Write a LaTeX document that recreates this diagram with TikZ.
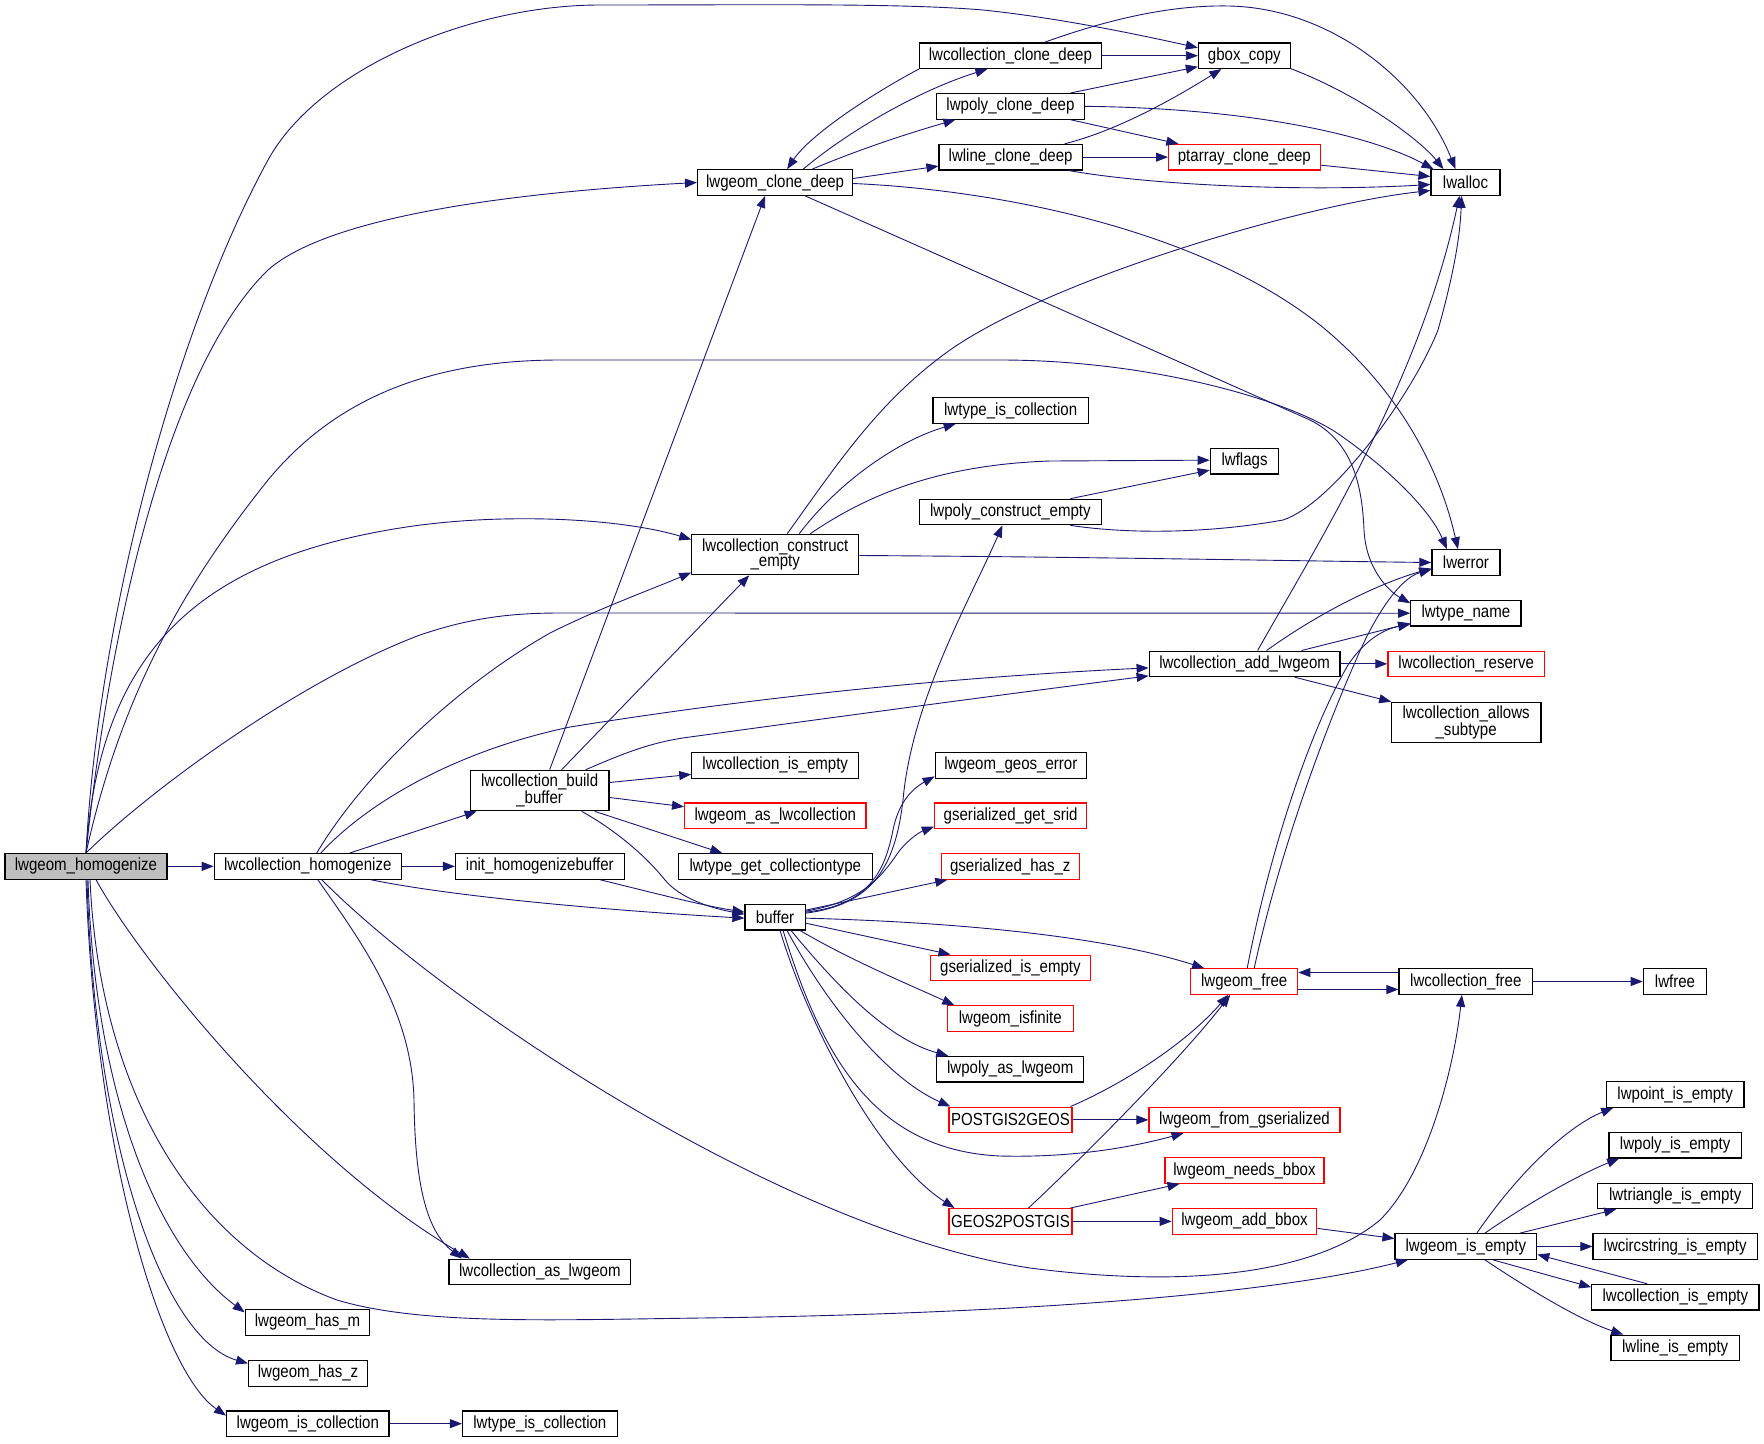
\documentclass[tikz,border=0pt]{standalone}
\usepackage{fontspec}
\setmainfont[FakeStretch=0.86]{Liberation Sans}
\usetikzlibrary{arrows.meta}
\definecolor{edgeblue}{HTML}{191970}
\definecolor{boxred}{HTML}{FF0000}
\definecolor{rootgray}{HTML}{BFBFBF}
\newcommand\gnodefont{\fontsize{17.5}{14.5}\selectfont}
\begin{document}
\begin{tikzpicture}[x=1pt,y=-1pt,
  box/.style={draw=black, line width=1.2pt, fill=white, inner sep=0pt, minimum height=25.5pt, text=black, font=\gnodefont},
  redbox/.style={box, draw=boxred},
  twoline/.style={minimum height=40.4pt, align=center},
  edge/.style={draw=edgeblue, line width=0.9pt, -{Triangle[length=12pt,width=9pt]}}]
\fill[white] (0,0) rectangle (1764,1443);
\useasboundingbox (0,0) rectangle (1764,1443);

% nodes
\node[box,fill=rootgray,minimum width=162pt] (LH) at (86,866.35) {lwgeom\_homogenize};
\node[box,minimum width=187pt] (LCH) at (307.8,866.35) {lwcollection\_homogenize};
\node[box,minimum width=168.7pt] (IHB) at (539.85,866.35) {init\_homogenizebuffer};
\node[box,twoline,minimum width=138.7pt] (LBB) at (539.65,790.5) {lwcollection\_build\\\_buffer};
\node[box,minimum width=155pt] (LCD) at (775.1,182.5) {lwgeom\_clone\_deep};
\node[box,minimum width=181.8pt] (LCC) at (1010.4,55.7) {lwcollection\_clone\_deep};
\node[box,minimum width=147.3pt] (LPC) at (1010.45,106.35) {lwpoly\_clone\_deep};
\node[box,minimum width=143.2pt] (LLC) at (1010.6,157.15) {lwline\_clone\_deep};
\node[box,minimum width=91.9pt] (GBC) at (1244.35,55.7) {gbox\_copy};
\node[redbox,minimum width=151.5pt] (PCD) at (1244.35,157.15) {ptarray\_clone\_deep};
\node[box,minimum width=69pt] (LWA) at (1465.5,182.5) {lwalloc};
\node[box,minimum width=155.3pt] (TIC) at (1010.65,410.5) {lwtype\_is\_collection};
\node[box,minimum width=68.5pt] (LWF) at (1244.55,461.15) {lwflags};
\node[box,minimum width=181.8pt] (LPCE) at (1010.4,512) {lwpoly\_construct\_empty};
\node[box,twoline,minimum width=166.9pt] (LCE) at (775.25,554.5) {lwcollection\_construct\\\_empty};
\node[box,minimum width=68.1pt] (LWE) at (1465.95,562.5) {lwerror};
\node[box,minimum width=110.2pt] (LTN) at (1465.9,613.2) {lwtype\_name};
\node[box,minimum width=190.8pt] (LAL) at (1244.6,663.85) {lwcollection\_add\_lwgeom};
\node[redbox,minimum width=156.5pt] (LCR) at (1466.15,663.85) {lwcollection\_reserve};
\node[box,twoline,minimum width=149.7pt] (LCAS) at (1466.15,722.5) {lwcollection\_allows\\\_subtype};
\node[box,minimum width=166.9pt] (LCIE) at (775.25,765.35) {lwcollection\_is\_empty};
\node[redbox,minimum width=181.4pt] (LGAL) at (775.3,815.7) {lwgeom\_as\_lwcollection};
\node[box,minimum width=193.6pt] (LTGC) at (775.3,866.5) {lwtype\_get\_collectiontype};
\node[box,minimum width=60.1pt] (BUF) at (775.05,917.15) {buffer};
\node[box,minimum width=151.2pt] (LGGE) at (1010.8,765.35) {lwgeom\_geos\_error};
\node[redbox,minimum width=152.3pt] (GGS) at (1010.65,815.7) {gserialized\_get\_srid};
\node[redbox,minimum width=137.7pt] (GHZ) at (1010.25,866.5) {gserialized\_has\_z};
\node[redbox,minimum width=160.5pt] (GIE) at (1010.45,967.85) {gserialized\_is\_empty};
\node[redbox,minimum width=125.7pt] (LIF) at (1010.25,1018.5) {lwgeom\_isfinite};
\node[box,minimum width=146.9pt] (LPAL) at (1010.25,1069.15) {lwpoly\_as\_lwgeom};
\node[redbox,minimum width=122.9pt] (P2G) at (1010.45,1119.85) {POSTGIS2GEOS};
\node[redbox,minimum width=122.9pt] (G2P) at (1010.45,1221.35) {GEOS2POSTGIS};
\node[redbox,minimum width=191pt] (LFG) at (1244.5,1119.85) {lwgeom\_from\_gserialized};
\node[redbox,minimum width=159pt] (LNB) at (1244.5,1170.5) {lwgeom\_needs\_bbox};
\node[redbox,minimum width=144.4pt] (LAB) at (1244.5,1221.35) {lwgeom\_add\_bbox};
\node[redbox,minimum width=107pt] (LGF) at (1244.2,981.5) {lwgeom\_free};
\node[box,minimum width=133.7pt] (LCF) at (1465.85,981.5) {lwcollection\_free};
\node[box,minimum width=63.4pt] (LWFR) at (1675,981.5) {lwfree};
\node[box,minimum width=141.7pt] (LGIE) at (1465.85,1246.5) {lwgeom\_is\_empty};
\node[box,minimum width=137.7pt] (LPIE) at (1675.15,1094.5) {lwpoint\_is\_empty};
\node[box,minimum width=132.3pt] (LPYE) at (1675.15,1145.15) {lwpoly\_is\_empty};
\node[box,minimum width=155pt] (LTRE) at (1675.2,1195.85) {lwtriangle\_is\_empty};
\node[box,minimum width=164.3pt] (LCSE) at (1675.15,1246.5) {lwcircstring\_is\_empty};
\node[box,minimum width=167.3pt] (LCIE2) at (1675.35,1297.15) {lwcollection\_is\_empty};
\node[box,minimum width=128.3pt] (LLIE) at (1675.15,1347.85) {lwline\_is\_empty};
\node[box,minimum width=181.7pt] (LCAL) at (539.85,1271.85) {lwcollection\_as\_lwgeom};
\node[box,minimum width=124.5pt] (LHM) at (307.55,1322.35) {lwgeom\_has\_m};
\node[box,minimum width=118.8pt] (LHZ) at (308,1373.35) {lwgeom\_has\_z};
\node[box,minimum width=162.4pt] (LIC) at (307.8,1423.65) {lwgeom\_is\_collection};
\node[box,minimum width=154.7pt] (TIC2) at (539.85,1423.65) {lwtype\_is\_collection};

% edges from lwgeom_homogenize
\draw[edge] (LH.north) .. controls (98,620) and (175,330) .. (268,160) .. controls (318,69) and (470,5) .. (600,5) .. controls (760,5) and (900,3) .. (983,10) .. controls (1060,18) and (1140,35) .. ([yshift=8pt]GBC.west);
\draw[edge] (LH.north) .. controls (108,640) and (165,370) .. (268,270) .. controls (330,215) and (520,192) .. (LCD.west);
\draw[edge] (LH.north) .. controls (120,700) and (180,590) .. (268,480) .. controls (330,405) and (420,360) .. (560,360) -- (1000,360) .. controls (1150,360) and (1290,400) .. (1340,435) .. controls (1390,470) and (1430,510) .. ([xshift=-19pt]LWE.north);
\draw[edge] (LH.north) .. controls (100,650) and (200,560) .. (400,528) .. controls (500,512) and (620,518) .. ([yshift=15pt]LCE.west);
\draw[edge] (LH.north) .. controls (150,790) and (300,680) .. (420,635) .. controls (470,618) and (510,613) .. (560,613) -- (LTN.west);
\draw[edge] (LH.east) -- (LCH.west);
\draw[edge] ([xshift=10pt]LH.south) .. controls (140,960) and (300,1160) .. ([xshift=-70pt]LCAL.north);
\draw[edge] ([xshift=2pt]LH.south) .. controls (95,1100) and (160,1250) .. ([yshift=10pt]LHM.west);
\draw[edge] ([xshift=1pt]LH.south) .. controls (95,1150) and (165,1340) .. ([yshift=10pt]LHZ.west);
\draw[edge] (LH.south) .. controls (95,1150) and (160,1370) .. ([yshift=8pt]LIC.west);
\draw[edge] ([xshift=4pt]LH.south) .. controls (100,1100) and (200,1250) .. (337,1300) .. controls (420,1325) and (550,1320) .. (700,1318) .. controls (950,1315) and (1250,1300) .. ([xshift=-58pt]LGIE.south);

% lwcollection_homogenize
\draw[edge] ([xshift=9pt]LCH.north) .. controls (360,780) and (450,690) .. (550,633) .. controls (600,608) and (650,590) .. ([yshift=-18pt]LCE.west);
\draw[edge] ([xshift=13pt]LCH.north) .. controls (370,800) and (460,750) .. (570,727) .. controls (800,690) and (1000,675) .. ([yshift=-4pt]LAL.west);
\draw[edge] ([xshift=42pt]LCH.north) -- ([xshift=-63pt]LBB.south);
\draw[edge] (LCH.east) -- (IHB.west);
\draw[edge] ([xshift=63pt]LCH.south) .. controls (450,896) and (600,910) .. ([yshift=-1pt]BUF.west);
\draw[edge] ([xshift=10pt]LCH.south) .. controls (360,940) and (412,1010) .. (414,1100) .. controls (415,1180) and (425,1230) .. ([xshift=-78pt]LCAL.north);
\draw[edge] ([xshift=14pt]LCH.south) .. controls (440,1000) and (780,1230) .. (1030,1268) .. controls (1200,1290) and (1320,1270) .. (1380,1220) .. controls (1430,1170) and (1455,1060) .. ([xshift=-4pt]LCF.south);
\draw[edge] ([xshift=60pt]IHB.south) .. controls (650,892) and (700,905) .. ([yshift=5pt]BUF.west);

% lwcollection_build_buffer
\draw[edge] ([xshift=10pt]LBB.north) -- ([xshift=-10pt]LCD.south);
\draw[edge] ([xshift=22pt]LBB.north) -- ([xshift=-26pt]LCE.south);
\draw[edge] ([xshift=46pt]LBB.north) .. controls (620,755) and (650,742) .. (690,737) .. controls (850,715) and (1000,695) .. ([yshift=-12pt]LAL.west);
\draw[edge] ([yshift=8pt]LBB.east) -- ([yshift=-9pt]LCIE.west);
\draw[edge] ([yshift=-7pt]LBB.east) -- ([yshift=9pt]LGAL.west);
\draw[edge] ([xshift=55pt]LBB.south) -- ([xshift=-53pt]LTGC.north);
\draw[edge] ([xshift=42pt]LBB.south) .. controls (615,830) and (645,855) .. (665,880) .. controls (680,898) and (710,908) .. ([yshift=3pt]BUF.west);

% lwgeom_clone_deep
\draw[edge] ([xshift=28pt]LCD.north) .. controls (850,130) and (920,90) .. ([xshift=-23pt]LCC.south);
\draw[edge] (LCC.south west) .. controls (870,95) and (810,135) .. ([xshift=12pt]LCD.north);
\draw[edge] ([xshift=37pt]LCD.north) .. controls (870,145) and (920,130) .. ([xshift=-55pt]LPC.south);
\draw[edge] ([yshift=4pt]LCD.east) -- ([yshift=-9pt]LLC.west);
\draw[edge] ([yshift=-1pt]LCD.east) .. controls (1000,190) and (1200,230) .. (1320,325) .. controls (1400,390) and (1440,470) .. ([xshift=-8pt]LWE.north);
\draw[edge] ([xshift=30pt]LCD.south) -- (1310,420) .. controls (1350,440) and (1362,480) .. (1364,530) .. controls (1366,570) and (1390,592) .. ([yshift=10pt]LTN.west);

% clone_deep family
\draw[edge] (LCC.east) -- (GBC.west);
\draw[edge] ([xshift=34pt]LCC.north) .. controls (1120,15) and (1180,5) .. (1229,6) .. controls (1330,8) and (1420,80) .. ([xshift=-10pt]LWA.north);
\draw[edge] ([yshift=-13pt]GBC.east) .. controls (1360,95) and (1420,140) .. ([xshift=-22pt]LWA.north);
\draw[edge] ([xshift=60pt]LPC.north) -- ([yshift=-11pt]GBC.west);
\draw[edge] ([xshift=60pt]LPC.south) -- ([xshift=-66pt]PCD.north);
\draw[edge] (LPC.east) .. controls (1250,108) and (1370,135) .. ([xshift=-32pt]LWA.north);
\draw[edge] ([xshift=54pt]LLC.north) .. controls (1120,130) and (1180,95) .. ([xshift=-23pt]GBC.south);
\draw[edge] (LLC.east) -- (PCD.west);
\draw[edge] ([xshift=58pt]LLC.south) .. controls (1150,185) and (1300,192) .. ([yshift=-2pt]LWA.west);
\draw[edge] ([yshift=-8pt]PCD.east) -- ([yshift=6pt]LWA.west);

% lwcollection_construct_empty
\draw[edge] ([xshift=12pt]LCE.north) .. controls (840,460) and (880,400) .. (950,350) .. controls (1050,280) and (1300,205) .. ([yshift=-8pt]LWA.west);
\draw[edge] ([xshift=24pt]LCE.north) .. controls (840,480) and (900,440) .. ([xshift=-55pt]TIC.south);
\draw[edge] ([xshift=35pt]LCE.north) .. controls (860,500) and (930,465) .. (1050,461) -- ([yshift=1pt]LWF.west);
\draw[edge] ([yshift=-1pt]LCE.east) .. controls (1100,557) and (1300,561) .. (LWE.west);

% lwpoly_construct_empty
\draw[edge] ([xshift=60pt]LPCE.north) -- ([yshift=-9pt]LWF.west);
\draw[edge] ([xshift=60pt]LPCE.south) .. controls (1120,533) and (1200,535) .. (1283,520) .. controls (1330,505) and (1410,400) .. (1438,330) .. controls (1452,280) and (1460,240) .. ([xshift=-4pt]LWA.south);

% lwcollection_add_lwgeom
\draw[edge] ([xshift=13pt]LAL.north) .. controls (1320,540) and (1420,380) .. ([xshift=-6pt]LWA.south);
\draw[edge] ([xshift=22pt]LAL.north) .. controls (1330,605) and (1390,580) .. ([yshift=-6pt]LWE.west);
\draw[edge] ([xshift=57pt]LAL.north) -- ([yshift=-10pt]LTN.west);
\draw[edge] (LAL.east) -- (LCR.west);
\draw[edge] ([xshift=50pt]LAL.south) -- ([xshift=-75pt]LCAS.north);

% lwgeom_free / lwcollection_free
\draw[edge] ([xshift=10pt]LGF.north) .. controls (1280,850) and (1325,730) .. (1356,660) .. controls (1375,615) and (1400,578) .. ([yshift=-7pt]LWE.west);
\draw[edge] ([xshift=3pt]LGF.north) .. controls (1270,850) and (1310,730) .. (1348,665) .. controls (1368,635) and (1390,628) .. ([yshift=-11pt]LTN.west);
\draw[edge] ([yshift=-8pt]LGF.east) -- ([yshift=-8pt]LCF.west);
\draw[edge] ([yshift=9pt]LCF.west) -- ([yshift=9pt]LGF.east);
\draw[edge] (LCF.east) -- (LWFR.west);

% buffer
\draw[edge] ([yshift=4pt]BUF.east) .. controls (870,905) and (895,870) .. (903,800) .. controls (912,700) and (970,600) .. ([xshift=-8pt]LPCE.south);
\draw[edge] ([yshift=5pt]BUF.east) .. controls (870,905) and (885,870) .. (893,830) .. controls (898,805) and (910,790) .. ([yshift=-11pt]LGGE.west);
\draw[edge] ([yshift=6pt]BUF.east) .. controls (870,900) and (885,870) .. (900,850) .. controls (910,838) and (920,832) .. ([yshift=-11pt]GGS.west);
\draw[edge] ([yshift=7pt]BUF.east) -- ([xshift=-63pt]GHZ.south);
\draw[edge] ([yshift=-1pt]BUF.east) .. controls (950,922) and (1100,935) .. ([xshift=-40pt]LGF.north);
\draw[edge] ([yshift=-6pt]BUF.east) -- ([xshift=-60pt]GIE.north);
\draw[edge] ([xshift=25pt]BUF.south) .. controls (850,960) and (910,985) .. ([xshift=-56pt]LIF.north);
\draw[edge] ([xshift=16pt]BUF.south) .. controls (840,990) and (890,1040) .. ([xshift=-62pt]LPAL.north);
\draw[edge] ([xshift=12pt]BUF.south) .. controls (830,1010) and (890,1080) .. ([xshift=-60pt]P2G.north);
\draw[edge] ([xshift=8pt]BUF.south) .. controls (820,1050) and (870,1150) .. (1000,1156) .. controls (1080,1158) and (1140,1145) .. ([xshift=-61pt]LFG.south);
\draw[edge] ([xshift=5pt]BUF.south) .. controls (810,1030) and (880,1160) .. ([xshift=-56pt]G2P.north);

% POSTGIS2GEOS / GEOS2POSTGIS
\draw[edge] ([xshift=60pt]P2G.north) .. controls (1110,1090) and (1180,1050) .. ([xshift=-16pt]LGF.south);
\draw[edge] (P2G.east) -- (LFG.west);
\draw[edge] ([xshift=18pt]G2P.north) .. controls (1080,1160) and (1180,1060) .. ([xshift=-14pt]LGF.south);
\draw[edge] ([xshift=60pt]G2P.north) -- ([xshift=-65pt]LNB.south);
\draw[edge] (G2P.east) -- (LAB.west);
\draw[edge] ([yshift=-7pt]LAB.east) -- ([yshift=8pt]LGIE.west);

% lwgeom_is_empty
\draw[edge] ([xshift=11pt]LGIE.north) .. controls (1520,1170) and (1570,1125) .. ([xshift=-62pt]LPIE.south);
\draw[edge] ([xshift=19pt]LGIE.north) .. controls (1540,1195) and (1590,1170) .. ([xshift=-56pt]LPYE.south);
\draw[edge] ([xshift=54pt]LGIE.north) -- ([xshift=-59pt]LTRE.south);
\draw[edge] (LGIE.east) -- (LCSE.west);
\draw[edge] ([xshift=27pt]LGIE.south) -- ([yshift=10pt]LCIE2.west);
\draw[edge] ([xshift=-28pt]LCIE2.north) -- ([yshift=-8pt]LGIE.east);
\draw[edge] ([xshift=19pt]LGIE.south) .. controls (1530,1290) and (1580,1320) .. ([xshift=-52pt]LLIE.north);

% lwgeom_is_collection
\draw[edge] (LIC.east) -- (TIC2.west);
\end{tikzpicture}
\end{document}
